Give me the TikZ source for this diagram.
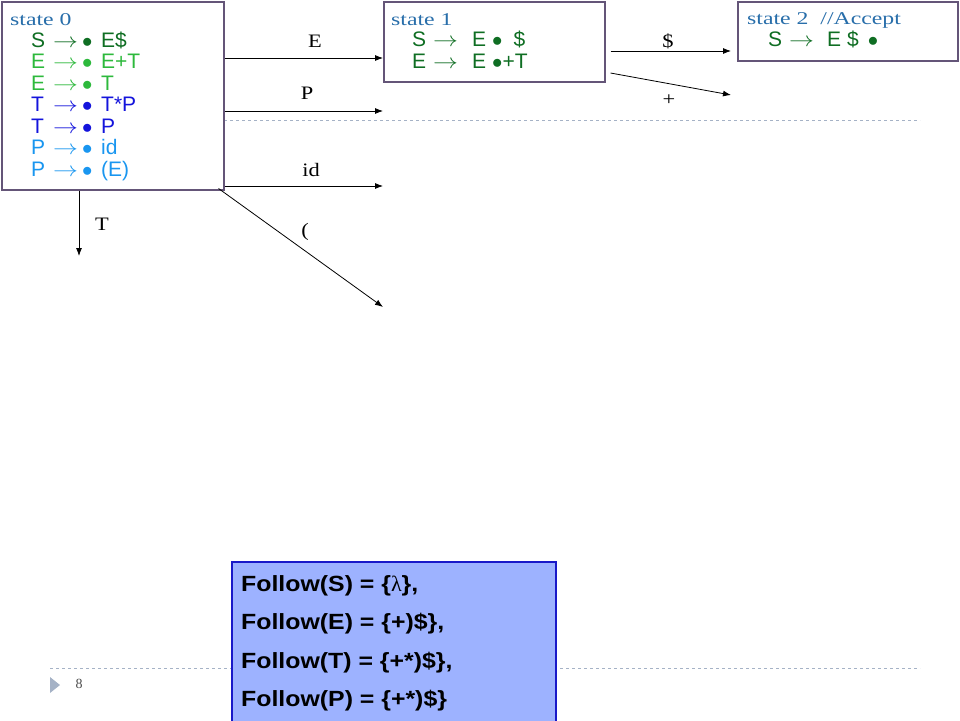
\documentclass[tikz,border=0pt]{standalone}
\usepackage{graphicx}
\usepackage{fontspec}
\setmainfont{Liberation Serif}
\setsansfont{Liberation Sans}
\newfontfamily\widerm[FakeStretch=1.32]{Liberation Serif}
\newfontfamily\labelrm[FakeStretch=1.18]{Liberation Serif}
\newfontfamily\widesf[FakeStretch=1.13]{Liberation Sans}
\usetikzlibrary{arrows.meta}
\definecolor{boxline}{RGB}{100,85,120}
\definecolor{statecol}{RGB}{40,110,170}
\definecolor{dkgreen}{RGB}{15,110,35}
\definecolor{ltgreen}{RGB}{45,185,60}
\definecolor{dkblue}{RGB}{20,20,220}
\definecolor{ltblue}{RGB}{25,150,240}
\definecolor{dashcol}{RGB}{165,178,198}
\definecolor{followfill}{RGB}{157,178,255}
\definecolor{followline}{RGB}{25,25,200}
% lhs, then the arrow, in boxes of given widths
\newcommand{\lhsto}[3]{\makebox[#1][l]{#2}\makebox[#3][l]{\scalebox{1.2}[1]{$\rightarrow$}}}
\newcommand{\itemzero}[2]{\lhsto{22pt}{#1}{29pt}\makebox[19pt][l]{$\bullet$}#2}

\begin{document}
\begin{tikzpicture}
  [x=1pt,y=-1pt,
   statebox/.style={rectangle,draw=boxline,line width=1.5pt,fill=white,
                    anchor=north west,inner sep=0pt},
   title/.style={anchor=base west,inner sep=0pt,text=statecol,
                 font=\widerm\fontsize{18}{22}\selectfont},
   prodline/.style={anchor=base west,inner sep=0pt,text=#1,
                    font=\sffamily\fontsize{21}{24}\selectfont},
   edgelabel/.style={inner sep=0pt,font=\labelrm\fontsize{19}{22}\selectfont},
   goto/.style={-{Latex[length=8pt,width=6pt]},line width=0.8pt},
   slideline/.style={draw=dashcol,dashed,line width=0.6pt}]
  \useasboundingbox (0,0) rectangle (960,720);

  % slide decoration
  \draw[slideline] (224,120) -- (920,120);
  \draw[slideline] (50,668) -- (920,668);
  \fill[dashcol] (50,677) -- (60,685) -- (50,693) -- cycle;
  \node[inner sep=0pt,font=\fontsize{14}{16}\selectfont,text=black!70]
    (pagenum) at (79,684) {8};

  % state 0
  \node[statebox,minimum width=222pt,minimum height=188pt] (state0) at (1,1) {};
  \node[title] (t0) at (10,25) {state 0};
  \node[prodline=dkgreen] (p01) at (31,47)    {\itemzero{S}{E\$}};
  \node[prodline=ltgreen] (p02) at (31,68.5)  {\itemzero{E}{E+T}};
  \node[prodline=ltgreen] (p03) at (31,90)    {\itemzero{E}{T}};
  \node[prodline=dkblue]  (p04) at (31,111.5) {\itemzero{T}{T*P}};
  \node[prodline=dkblue]  (p05) at (31,133)   {\itemzero{T}{P}};
  \node[prodline=ltblue]  (p06) at (31,154.5) {\itemzero{P}{id}};
  \node[prodline=ltblue]  (p07) at (31,176)   {\itemzero{P}{(E)}};

  % state 1
  \node[statebox,minimum width=221pt,minimum height=80pt] (state1) at (383,1) {};
  \node[title] (t1) at (391,25) {state 1};
  \node[prodline=dkgreen] (p11) at (412,46)
    {\lhsto{21pt}{S}{39pt}E\hspace{6pt}$\bullet$\hspace{11pt}\$};
  \node[prodline=dkgreen] (p12) at (412,68)
    {\lhsto{21pt}{E}{39pt}E\hspace{6pt}$\bullet$+T};

  % state 2
  \node[statebox,minimum width=220pt,minimum height=59pt] (state2) at (737,1) {};
  \node[title] (t2) at (747,24) {state 2\ \ //Accept};
  \node[prodline=dkgreen] (p21) at (768,46)
    {\lhsto{21pt}{S}{38pt}E\hspace{6pt}\$\hspace{9pt}$\bullet$};

  % transitions
  \coordinate (pEnd)    at (383,111);
  \coordinate (idEnd)   at (383,186);
  \coordinate (parEnd)  at (383,307);
  \coordinate (tEnd)    at (79,256);
  \coordinate (dolEnd)  at (731,51);
  \coordinate (plusEnd) at (731,95);
  \draw[goto] (state0.east |- 0,58) -- (state1.west |- 0,58);
  \draw[goto] (state0.east |- pEnd) -- (pEnd);
  \draw[goto] (state0.east |- idEnd) -- (idEnd);
  \draw[goto] (state0.south east) ++(-6,-2) -- (parEnd);
  \draw[goto] (state0.south -| tEnd) -- (tEnd);
  \draw[goto] (state1.east |- dolEnd) ++(5,0) -- (dolEnd);
  \draw[goto] (state1.east |- 0,73) ++(5,0) -- (plusEnd);
  \node[edgelabel] (lE)    at (315,41)  {E};
  \node[edgelabel] (lP)    at (307,93)  {P};
  \node[edgelabel] (lid)   at (311,170) {id};
  \node[edgelabel] (lpar)  at (305,232) {(};
  \node[edgelabel] (lT)    at (102,224) {T};
  \node[edgelabel] (ldol)  at (668,41)  {\$};
  \node[edgelabel] (lplus) at (669,100) {+};

  % follow sets
  \node[rectangle,draw=followline,fill=followfill,line width=1.5pt,
        anchor=north west,inner sep=0pt,minimum width=324pt,
        minimum height=160pt] (follow) at (231,561) {};
  \foreach \fset [count=\i from 0] in
      {{Follow(S) = \{{\rmfamily\mdseries λ}\},},
       {Follow(E) = \{+)\$\},},
       {Follow(T) = \{+*)\$\},},
       {Follow(P) = \{+*)\$\}}}
    \node[anchor=base west,inner sep=0pt,
          font=\widesf\bfseries\fontsize{22}{24}\selectfont]
      (f\i) at (241,591+38.5*\i) {\fset};
\end{tikzpicture}
\end{document}
